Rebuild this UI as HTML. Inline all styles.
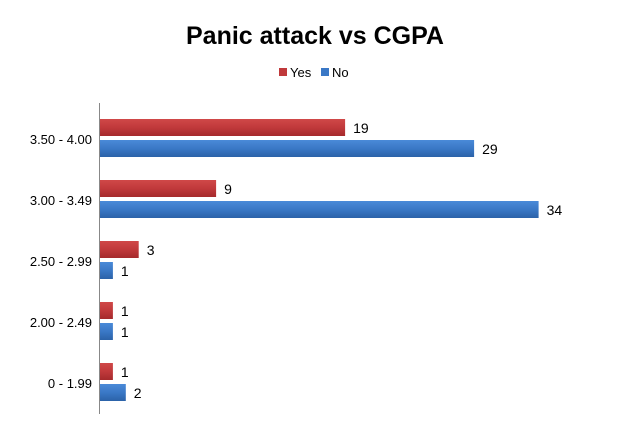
<!DOCTYPE html>
<html><head><meta charset="utf-8"><style>
body{margin:0;background:#fff;}
svg text{font-family:"Liberation Sans",Calibri,sans-serif;}
</style></head><body>
<svg id="c" width="630" height="430" viewBox="0 0 630 430">
<defs>
<linearGradient id="gr" x1="0" y1="0" x2="0" y2="1"><stop offset="0" stop-color="#d04848"/><stop offset="0.5" stop-color="#c0393b"/><stop offset="1" stop-color="#a52a2c"/></linearGradient>
<linearGradient id="gb" x1="0" y1="0" x2="0" y2="1"><stop offset="0" stop-color="#4a8ad8"/><stop offset="0.5" stop-color="#3a78c6"/><stop offset="1" stop-color="#2b62a8"/></linearGradient>
</defs>
<text x="315" y="44" text-anchor="middle" font-size="25" font-weight="bold" fill="#000">Panic attack vs CGPA</text>
<g>
<rect x="279" y="68" width="8" height="8" fill="#c0393b"/>
<text x="290" y="77" font-size="13" fill="#000">Yes</text>
<rect x="321" y="68" width="8" height="8" fill="#3a78c6"/>
<text x="332" y="77" font-size="13" fill="#000">No</text>
</g>
<g id="bars"></g>
<line x1="99.5" y1="103" x2="99.5" y2="414" stroke="#888" stroke-width="1"/>
</svg>
<script>
const categories = ["3.50 - 4.00","3.00 - 3.49","2.50 - 2.99","2.00 - 2.49","0 - 1.99"];
const yesValues = [19,9,3,1,1];
const noValues = [29,34,1,1,2];
const x0 = 100, pxPer = 12.9, top0 = 109, band = 61;
function xs(v){return v*pxPer;}
function bandY(i){return top0 + i*band;}
const g = document.getElementById('bars');
const NS = "http://www.w3.org/2000/svg";
categories.forEach((c,i)=>{
  const y = bandY(i);
  const t = document.createElementNS(NS,'text');
  t.setAttribute('x',92); t.setAttribute('y',y+35); t.setAttribute('text-anchor','end');
  t.setAttribute('font-size','13'); t.textContent = c;
  
  
  g.appendChild(t);
  [[yesValues[i],'url(#gr)',y+10,'yes'],[noValues[i],'url(#gb)',y+31,'no']].forEach(([v,f,by,s])=>{
    const r = document.createElementNS(NS,'rect');
    r.setAttribute('x',x0); r.setAttribute('y',by); r.setAttribute('width',xs(v)); r.setAttribute('height',17);
    r.setAttribute('fill',f);
    
    
    g.appendChild(r);
    const l = document.createElementNS(NS,'text');
    l.setAttribute('x',x0+xs(v)+8); l.setAttribute('y',by+14); l.setAttribute('font-size','14');
    l.textContent = v;
    
    
    g.appendChild(l);
  });
});
</script>
</body></html>
